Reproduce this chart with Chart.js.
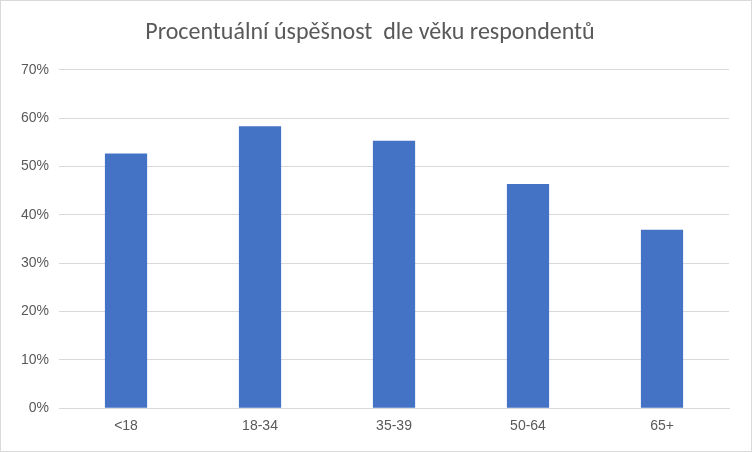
<!DOCTYPE html>
<html><head><meta charset="utf-8">
<script src="https://cdn.jsdelivr.net/npm/chart.js"></script>
<style>html,body{margin:0;padding:0;background:#fff}#w{width:750px;height:450px;border:1px solid #d9d9d9;position:relative}</style>
</head><body><div id="w"><canvas id="c"></canvas></div>
<script>
const categories = ["<18","18-34","35-39","50-64","65+"];
const values = [52.7, 58.3, 55.3, 46.4, 36.9];
new Chart(document.getElementById('c'), {
  type: 'bar',
  data: { labels: categories, datasets: [{ data: values, backgroundColor: '#4472C4', barPercentage: 0.63, categoryPercentage: 0.5 }] },
  options: {
    responsive: true, maintainAspectRatio: false, animation: false,
    layout: { padding: { left: 10, right: 22, top: 8, bottom: 6 } },
    plugins: {
      legend: { display: false },
      title: { display: true, text: 'Procentuální úspěšnost  dle věku respondentů', color: '#595959',
        font: { family: 'Calibri, Carlito, "Open Sans", sans-serif', size: 24, weight: 'normal' }, padding: { top: 10, bottom: 22 } }
    },
    scales: {
      y: { min: 0, max: 70, ticks: { stepSize: 10, callback: v => v + '%', color: '#595959', font: { size: 14 }, padding: 10 },
           grid: { color: '#d9d9d9', drawTicks: false }, border: { display: false } },
      x: { ticks: { color: '#595959', font: { size: 14 }, padding: 10 }, grid: { display: false, drawTicks: false }, border: { color: '#d9d9d9' } }
    }
  }
});
</script></body></html>
